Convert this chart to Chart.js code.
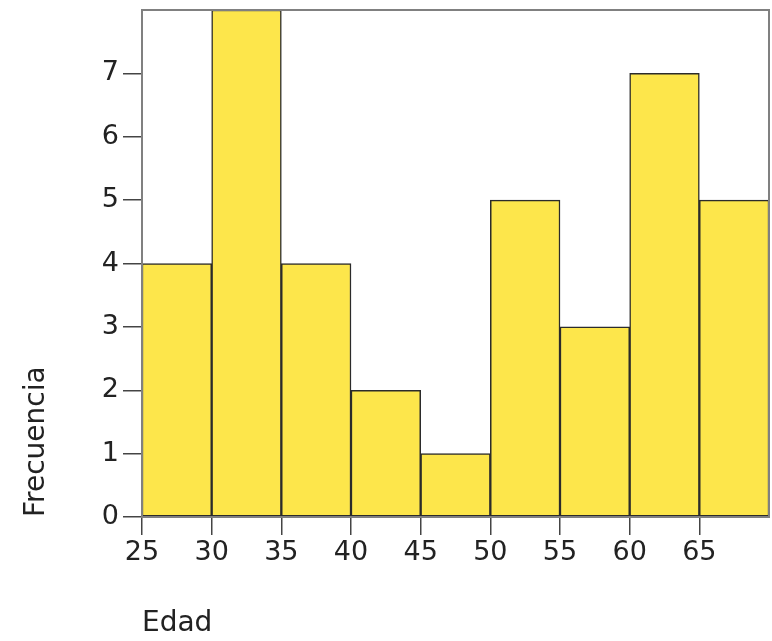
<!DOCTYPE html>
<html>
<head>
<meta charset="utf-8">
<script src="https://cdn.jsdelivr.net/npm/chart.js@4/dist/chart.umd.min.js"></script>
<style>
  html, body { margin: 0; padding: 0; background: #fff; }
  #wrap { width: 772px; height: 641px; }
</style>
</head>
<body>
<div id="wrap"><canvas id="histChart"></canvas></div>
<script>
// Datos del histograma
const binStarts = [25, 30, 35, 40, 45, 50, 55, 60, 65];
const binWidth = 5;
const frecuencias = [4, 8, 4, 2, 1, 5, 3, 7, 5];
const xTicks = [25, 30, 35, 40, 45, 50, 55, 60, 65];
const yTicks = [0, 1, 2, 3, 4, 5, 6, 7];
const xRange = [25, 70];
const yRange = [0, 8];

const FONT = 'DejaVu Sans';

// Marco gris alrededor del área de trazado
const framePlugin = {
    id: 'frame',
    afterDatasetsDraw(chart) {
        const { ctx, chartArea: a } = chart;
        ctx.save();
        ctx.strokeStyle = '#808080';
        ctx.lineWidth = 2;
        ctx.strokeRect(a.left, a.top, a.right - a.left, a.bottom - a.top);
        ctx.restore();
    }
};

const ctx = document.getElementById('histChart').getContext('2d');
new Chart(ctx, {
    type: 'bar',
    data: {
        datasets: [{
            data: binStarts.map((s, i) => ({ x: s + binWidth / 2, y: frecuencias[i] })),
            backgroundColor: '#fde64b',
            borderColor: '#2b2b2b',
            borderWidth: 1.5,
            borderSkipped: false,
            barPercentage: 1,
            categoryPercentage: 1
        }]
    },
    options: {
        responsive: true,
        maintainAspectRatio: false,
        animation: false,
        layout: { padding: { top: 10, right: 3, left: 0, bottom: 0 } },
        plugins: { legend: { display: false }, tooltip: { enabled: false } },
        scales: {
            x: {
                type: 'linear',
                offset: false,
                min: xRange[0],
                max: xRange[1],
                afterBuildTicks: scale => { scale.ticks = xTicks.map(v => ({ value: v })); },
                afterFit: scale => { scale.height = 124; },
                grid: { offset: false, drawOnChartArea: false, drawTicks: true, tickLength: 18, color: '#444', lineWidth: 1.5 },
                border: { display: true, color: '#555', width: 2 },
                ticks: { color: '#222', font: { family: FONT, size: 27 }, padding: 2, maxRotation: 0, autoSkip: false },
                title: { display: true, text: 'Edad', align: 'start', color: '#222',
                         font: { family: FONT, size: 28, lineHeight: 1.2 }, padding: { top: 0, bottom: 0 } }
            },
            y: {
                min: yRange[0],
                max: yRange[1],
                afterBuildTicks: scale => { scale.ticks = yTicks.map(v => ({ value: v })); },
                afterFit: scale => { scale.width = 142; scale.paddingTop = 0; scale.paddingBottom = 0; },
                grid: { drawOnChartArea: false, drawTicks: true, tickLength: 19, color: '#444', lineWidth: 1.5 },
                border: { display: true, color: '#808080', width: 2 },
                ticks: { color: '#222', font: { family: FONT, size: 27 }, padding: 4, autoSkip: false },
                title: { display: true, text: 'Frecuencia', align: 'start', color: '#222',
                         font: { family: FONT, size: 28, lineHeight: 1.2 }, padding: { top: 20, bottom: 0 } }
            }
        }
    },
    plugins: [framePlugin]
});
</script>
</body>
</html>
